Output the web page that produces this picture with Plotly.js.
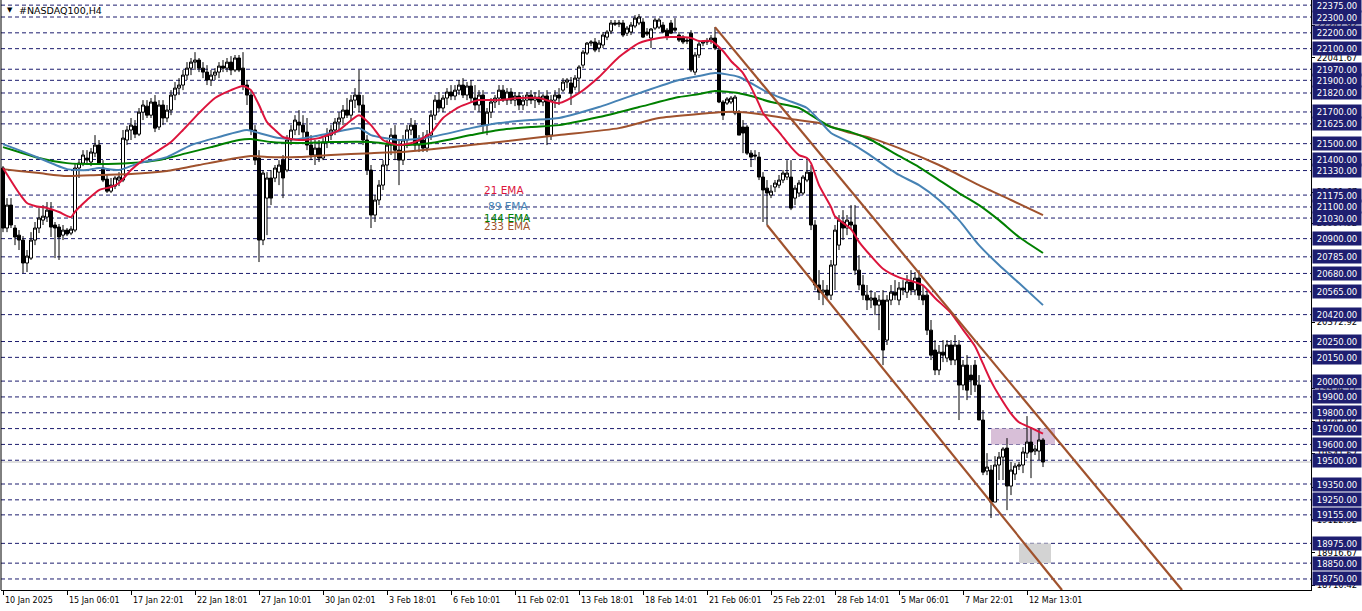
<!DOCTYPE html>
<html>
<head>
<meta charset="utf-8">
<script src="https://cdn.plot.ly/plotly-3.0.1.min.js"></script>
<style>
html,body{margin:0;padding:0;background:#fff;}
#chart{width:1362px;height:611px;}
</style>
</head>
<body>
<div id="chart"></div>
<script>
// ---------------- DATA (H4 bars, index 0 = 10 Jan 2025) ----------------
const barOpen = [21346,20967,21112,20967,20922,20891,20746,20777,20891,20967,
21017,21036,21080,20986,20973,20922,20954,20935,20954,21346,
21377,21409,21384,21440,21491,21346,21276,21200,21232,21270,
21270,21523,21586,21611,21560,21699,21737,21680,21763,21605,
21744,21662,21712,21807,21851,21870,21933,21977,22015,22028,
21977,21952,21902,21933,21952,21990,21977,22015,21965,22041,
21977,21870,21807,21586,21409,20891,21156,21283,21283,21320,
21396,21333,21523,21586,21636,21617,21573,21491,21428,21472,
21409,21510,21554,21586,21636,21662,21712,21680,21775,21807,
21744,21523,21333,21049,21144,21238,21365,21491,21554,21459,
21396,21523,21586,21617,21491,21523,21472,21554,21680,21775,
21725,21788,21826,21801,21838,21870,21807,21864,21788,21744,
21807,21617,21699,21763,21788,21838,21775,21826,21775,21801,
21744,21775,21807,21775,21794,21763,21801,21554,21775,21807,
21838,21889,21883,21857,21914,21996,22072,22135,22142,22104,
22123,22173,22211,22262,22255,22262,22198,22205,22243,22262,
22268,22205,22167,22230,22236,22249,22217,22262,22230,22186,
22173,22154,22198,21952,22060,22135,22142,22154,22167,22091,
21763,21756,21763,21693,21693,21605,21605,21440,21428,21415,
21289,21219,21175,21226,21238,21270,21289,21289,21156,21188,
21188,21270,21320,20986,20607,20562,20575,20543,20733,20859,
21005,20967,21005,20986,20701,20607,20543,20512,20525,20480,
20512,20259,20512,20562,20512,20588,20562,20626,20575,20651,
20543,20543,20322,20196,20070,20183,20146,20228,20133,20228,
19975,20101,20038,20101,19975,19754,19432,19438,19236,19470,
19520,19577,19337,19413,19463,19470,19545,19615,19558,19558,
19628];
const barHigh = [21358,21156,21156,20986,20954,20916,20828,20941,21005,21093,
21112,21131,21131,21005,20992,20986,20967,20979,21377,21396,
21459,21459,21472,21554,21523,21396,21302,21283,21295,21320,
21586,21611,21662,21649,21725,21775,21775,21788,21807,21775,
21775,21744,21838,21889,21914,21965,22015,22041,22078,22041,
22015,21996,21965,21977,22015,22028,22041,22053,22060,22060,
22078,21902,21838,21617,21459,21333,21320,21333,21365,21396,
21428,21554,21617,21680,21712,21680,21662,21554,21523,21523,
21535,21598,21617,21662,21699,21744,21788,21807,21851,21965,
21807,21554,21365,21175,21270,21396,21523,21598,21617,21523,
21554,21617,21662,21649,21554,21573,21586,21712,21807,21826,
21807,21851,21870,21870,21902,21914,21889,21902,21870,21838,
21838,21725,21788,21807,21870,21870,21851,21851,21826,21826,
21807,21826,21838,21826,21838,21813,21838,21807,21838,21851,
21914,21914,21921,21933,21996,22091,22142,22154,22167,22154,
22205,22217,22281,22281,22281,22281,22243,22268,22312,22319,
22293,22230,22230,22293,22293,22268,22230,22281,22293,22205,
22186,22167,22217,22078,22142,22154,22167,22186,22236,22110,
21775,21794,21801,21807,21712,21649,21617,21459,21459,21447,
21320,21270,21238,21270,21302,21333,21396,21396,21238,21270,
21302,21396,21365,21017,20701,20638,20607,20765,20986,21049,
21080,21049,21112,21112,20796,20670,20607,20575,20562,20543,
20575,20543,20607,20638,20626,20638,20670,20701,20689,20701,
20607,20575,20386,20259,20228,20259,20259,20259,20291,20259,
20133,20164,20101,20133,20038,19817,19545,19470,19526,19552,
19583,19640,19489,19482,19489,19583,19779,19710,19596,19703,
19640];
const barLow = [20941,20941,20967,20859,20828,20682,20689,20765,20859,20935,
20986,21005,20910,20777,20765,20891,20916,20922,20941,21283,
21358,21365,21358,21415,21365,21257,21188,21188,21213,21232,
21257,21491,21523,21535,21548,21649,21662,21662,21573,21586,
21617,21636,21680,21775,21807,21838,21902,21933,21965,21952,
21914,21870,21864,21902,21914,21952,21952,21933,21952,21952,
21838,21744,21554,21365,20752,20859,20922,21112,21257,21238,
21156,21320,21491,21554,21554,21535,21459,21396,21365,21384,
21396,21472,21523,21554,21586,21617,21662,21649,21725,21699,
21491,21302,20967,21005,21112,21207,21333,21428,21396,21238,
21365,21472,21554,21459,21447,21447,21447,21523,21649,21699,
21699,21744,21775,21775,21807,21788,21775,21763,21712,21699,
21573,21554,21662,21725,21744,21763,21744,21750,21737,21712,
21712,21737,21750,21725,21744,21737,21491,21523,21725,21744,
21826,21851,21744,21838,21819,21977,22060,22116,22078,22078,
22104,22154,22192,22243,22236,22173,22180,22186,22230,22249,
22167,22180,22104,22217,22224,22198,22154,22192,22205,22142,
22129,22129,21952,21933,22041,22116,22123,22129,22091,21756,
21649,21744,21750,21680,21554,21440,21428,21352,21396,21270,
21005,20986,21156,21194,21219,21251,21270,21080,21112,21163,
21175,21257,20954,20575,20512,20480,20512,20512,20575,20828,
20891,20922,20954,20670,20575,20512,20449,20461,20417,20322,
20101,20228,20480,20512,20480,20543,20525,20543,20543,20512,
20480,20291,20133,20038,20038,20120,20120,20101,20101,19754,
19943,19880,19912,19931,19754,19406,19406,19135,19236,19375,
19375,19185,19280,19375,19438,19419,19514,19387,19533,19501,
19457];
const barClose = [20967,21112,20986,20910,20891,20746,20790,20891,20967,21030,
21042,21080,20973,20967,20910,20954,20929,20960,21346,21377,
21428,21396,21447,21491,21377,21270,21200,21238,21283,21289,
21535,21586,21617,21560,21699,21744,21680,21763,21598,21744,
21662,21712,21807,21851,21870,21933,21977,22015,22028,21977,
21952,21902,21933,21952,21990,21977,22015,21965,22041,21965,
21870,21807,21586,21396,20891,21314,21283,21156,21346,21365,
21283,21523,21586,21649,21617,21573,21491,21428,21472,21409,
21510,21554,21586,21636,21662,21712,21680,21775,21807,21744,
21523,21333,21049,21144,21238,21365,21491,21554,21459,21396,
21523,21586,21617,21491,21523,21472,21554,21680,21775,21725,
21788,21826,21801,21838,21870,21807,21864,21788,21744,21807,
21617,21699,21763,21788,21838,21775,21826,21775,21801,21744,
21775,21807,21775,21794,21763,21801,21554,21775,21807,21788,
21889,21902,21819,21914,21984,22078,22135,22142,22091,22135,
22186,22205,22262,22255,22262,22186,22230,22249,22293,22300,
22173,22192,22224,22281,22281,22205,22173,22198,22217,22154,
22142,22148,21965,22060,22129,22142,22148,22167,22104,21763,
21680,21782,21788,21794,21554,21567,21440,21415,21422,21289,
21207,21188,21200,21251,21270,21314,21314,21093,21219,21251,
21289,21320,20986,20607,20562,20575,20543,20733,20954,21017,
20967,21017,20986,20701,20607,20543,20512,20525,20480,20512,
20196,20512,20562,20543,20588,20575,20626,20575,20651,20543,
20512,20322,20164,20070,20183,20164,20228,20133,20228,19975,
20101,19943,20007,19975,19754,19425,19457,19236,19470,19520,
19571,19337,19438,19463,19470,19552,19615,19552,19571,19628,
19489];

// Moving averages (bar index -> value)
const ema21Idx = [0,4,6,8,11,14,17,18,21,24,27,29,32,35,39,42,45,49,53,57,60,62,64,66,68,70,74,79,84,89,92,95,99,103,107,110,114,119,124,129,134,139,144,149,154,159,164,167,172,174,177,180,182,185,187,189,190,192,194,197,199,201,202,204,207,208,212,214,217,220,224,228,230,233,237,240,243,245,247,249,252,254,257,260];
const ema21Val = [21346,21188,21125,21106,21093,21068,21036,21070,21144,21207,21226,21251,21333,21396,21459,21510,21586,21693,21788,21838,21864,21838,21744,21636,21586,21542,21523,21535,21586,21680,21617,21523,21491,21510,21567,21662,21731,21775,21775,21788,21788,21756,21819,21921,22047,22135,22167,22173,22167,22148,22148,22085,22022,21946,21857,21750,21693,21630,21573,21478,21428,21409,21377,21238,21100,21040,20960,20880,20790,20710,20655,20625,20605,20525,20430,20325,20220,20110,20000,19910,19795,19740,19705,19668];
const ema89Idx = [0,4,9,16,21,24,29,34,41,47,54,61,64,69,74,82,89,92,99,107,117,124,132,139,149,159,169,174,178,184,191,196,201,204,207,212,216,221,224,229,234,239,244,249,254,260];
const ema89Val = [21497,21459,21409,21339,21333,21346,21333,21377,21415,21491,21542,21586,21567,21535,21529,21567,21598,21554,21523,21542,21598,21630,21649,21662,21731,21819,21902,21927,21946,21921,21826,21775,21725,21649,21567,21504,21440,21352,21302,21238,21144,21017,20859,20733,20619,20480];
const ema144Idx = [0,4,9,16,24,32,39,46,52,59,62,67,74,82,92,99,107,117,124,132,139,149,159,169,174,178,184,187,192,199,202,207,212,217,224,229,234,239,244,249,254,260];
const ema144Val = [21478,21447,21409,21377,21371,21377,21396,21440,21478,21523,21529,21510,21504,21510,21510,21491,21504,21554,21586,21605,21617,21668,21731,21794,21813,21832,21819,21801,21763,21725,21680,21605,21573,21523,21422,21352,21270,21188,21112,21017,20910,20809];
const ema233Idx = [0,4,9,16,24,32,41,49,57,62,66,74,82,92,99,112,124,139,154,164,174,179,185,191,197,204,211,217,224,234,244,252,260];
const ema233Val = [21339,21327,21314,21295,21302,21308,21327,21365,21403,21422,21415,21415,21428,21440,21447,21478,21510,21554,21598,21662,21687,21699,21699,21680,21655,21630,21573,21535,21472,21365,21238,21144,21049];

// Time axis labels
const timeTickIdx = [0,16,32,48,64,80,96,112,128,144,160,176,192,208,224,240,256];
const timeTickText = ["10 Jan 2025","15 Jan 06:01","17 Jan 22:01","22 Jan 18:01","27 Jan 10:01","30 Jan 02:01","3 Feb 18:01","6 Feb 10:01","11 Feb 02:01","13 Feb 18:01","18 Feb 14:01","21 Feb 06:01","25 Feb 22:01","28 Feb 14:01","5 Mar 06:01","7 Mar 22:01","12 Mar 13:01"];

// Price scale ticks and horizontal levels
const scaleTicks = [22247.92,22041.67,21191.67,20997.92,20372.92,19954.17,19747.92,19541.67,19329.17,19122.92,18916.67,18710.42];
const levels = [22375,22300,22200,22100,21970,21900,21820,21700,21625,21500,21400,21330,21175,21100,21030,20900,20785,20680,20565,20420,20250,20150,20000,19900,19800,19700,19600,19500,19350,19250,19155,18975,18850,18750];

// Channel trend lines (bar index, price)
const upperTrendIdx = [178, 294.75];
const upperTrendPrice = [22236, 18680];
const lowerTrendIdx = [191, 264.75];
const lowerTrendPrice = [20986, 18680];

// Zones (bar index range, price range)
const zoneIdx = [[247, 263], [254, 262]];
const zonePrice = [[19600, 19700], [18850, 18975]];
const zoneColor = ['#D8BFD8', '#D3D3D3'];

const emaNames = ['21 EMA', '89 EMA', '144 EMA', '233 EMA'];

// ---------------- CHART ----------------
const FONT = 'DejaVu Sans, Verdana, sans-serif';
const xs = barClose.map((_, i) => i);
const COLORS = {e21:'#DC143C', e89:'#4682B4', e144:'#008000', e233:'#A0522D', trend:'#A0522D', level:'#1c1c6e'};

const traces = [
  {type:'candlestick', x: xs, open: barOpen, high: barHigh, low: barLow, close: barClose,
   increasing:{line:{color:'#000', width:1}, fillcolor:'#ffffff'},
   decreasing:{line:{color:'#000', width:1}, fillcolor:'#000000'},
   whiskerwidth:0, hoverinfo:'none', showlegend:false},
  {type:'scatter', mode:'lines', x: ema233Idx, y: ema233Val, line:{color:COLORS.e233, width:2, shape:'spline', smoothing:0.6}, hoverinfo:'none', showlegend:false},
  {type:'scatter', mode:'lines', x: ema144Idx, y: ema144Val, line:{color:COLORS.e144, width:2, shape:'spline', smoothing:0.6}, hoverinfo:'none', showlegend:false},
  {type:'scatter', mode:'lines', x: ema89Idx, y: ema89Val, line:{color:COLORS.e89, width:2, shape:'spline', smoothing:0.6}, hoverinfo:'none', showlegend:false},
  {type:'scatter', mode:'lines', x: ema21Idx, y: ema21Val, line:{color:COLORS.e21, width:2, shape:'spline', smoothing:0.6}, hoverinfo:'none', showlegend:false}
];

const shapes = [];
zoneIdx.forEach((z, k) => {
  shapes.push({type:'rect', xref:'x', yref:'y', x0:z[0], x1:z[1], y0:zonePrice[k][0], y1:zonePrice[k][1],
    fillcolor:zoneColor[k], line:{width:0}, layer:'below'});
});
levels.forEach(v => {
  shapes.push({type:'line', xref:'paper', yref:'y', x0:0, x1:1, y0:v, y1:v,
    line:{color:COLORS.level, width:1, dash:'4px,3px'}, layer:'below'});
});
const lastClose = barClose[barClose.length - 1];
shapes.push({type:'line', xref:'paper', yref:'y', x0:0, x1:1, y0:lastClose, y1:lastClose,
  line:{color:'#C0C0C0', width:1}, layer:'below'});
shapes.push({type:'line', xref:'x', yref:'y', x0:upperTrendIdx[0], x1:upperTrendIdx[1], y0:upperTrendPrice[0], y1:upperTrendPrice[1], line:{color:COLORS.trend, width:2.2}});
shapes.push({type:'line', xref:'x', yref:'y', x0:lowerTrendIdx[0], x1:lowerTrendIdx[1], y0:lowerTrendPrice[0], y1:lowerTrendPrice[1], line:{color:COLORS.trend, width:2.2}});
shapes.push({type:'line', xref:'paper', yref:'paper', x0:0, x1:0, y0:0, y1:1, line:{color:'#000', width:1}});

const annotations = [];
levels.forEach(v => {
  annotations.push({xref:'paper', yref:'y', x:1, y:v, xanchor:'left', yanchor:'middle', xshift:1,
    text: v.toFixed(2), showarrow:false, bgcolor:'#1e1e70', borderpad:1, width:46, height:11,
    align:'center', font:{family:FONT, size:8.5, color:'#ffffff'}});
});
timeTickIdx.forEach((t, k) => {
  annotations.push({xref:'x', yref:'paper', x:t, y:0, xanchor:'left', yanchor:'top', xshift:0, yshift:-4,
    text: timeTickText[k], showarrow:false, font:{family:FONT, size:8, color:'#000'}});
});
annotations.push({xref:'paper', yref:'paper', x:0, y:1, xanchor:'left', yanchor:'middle', xshift:4, yshift:-10,
  text:'▼', showarrow:false, font:{family:FONT, size:7, color:'#000'}});
annotations.push({xref:'paper', yref:'paper', x:0, y:1, xanchor:'left', yanchor:'middle', xshift:16, yshift:-10,
  text:'#NASDAQ100,H4', showarrow:false, font:{family:FONT, size:9.5, color:'#000'}});
const emaLabelColors = [COLORS.e21, COLORS.e89, COLORS.e144, COLORS.e233];
const emaLabelPos = [[481, 190], [485, 206], [481, 218], [481, 226]];
emaNames.forEach((n, k) => {
  annotations.push({xref:'paper', yref:'paper', x:0, y:1, xanchor:'left', yanchor:'middle',
    xshift: emaLabelPos[k][0], yshift: -emaLabelPos[k][1], text:n, showarrow:false,
    font:{family:FONT, size:10.5, color:emaLabelColors[k]}});
});

const layout = {
  width:1362, height:611,
  margin:{l:1, r:51, t:0, b:21, pad:0},
  paper_bgcolor:'#ffffff', plot_bgcolor:'#ffffff',
  showlegend:false,
  boxgap:0.25, boxgroupgap:0,
  xaxis:{type:'linear', range:[-0.5, 327], rangeslider:{visible:false}, showgrid:false, zeroline:false,
    showline:true, linecolor:'#000', linewidth:1, ticks:'outside', ticklen:4, tickcolor:'#000',
    tickvals: timeTickIdx, showticklabels:false, fixedrange:true},
  yaxis:{side:'right', range:[18680.4, 22407.4], showgrid:false, zeroline:false,
    showline:true, linecolor:'#000', linewidth:1, ticks:'outside', ticklen:3, tickcolor:'#000',
    tickvals: scaleTicks, ticktext: scaleTicks.map(v => v.toFixed(2)),
    tickfont:{family:FONT, size:8.5, color:'#000'}, fixedrange:true},
  shapes: shapes,
  annotations: annotations,
  font:{family:FONT}
};

Plotly.newPlot('chart', traces, layout, {staticPlot:true, displayModeBar:false});
</script>
</body>
</html>
